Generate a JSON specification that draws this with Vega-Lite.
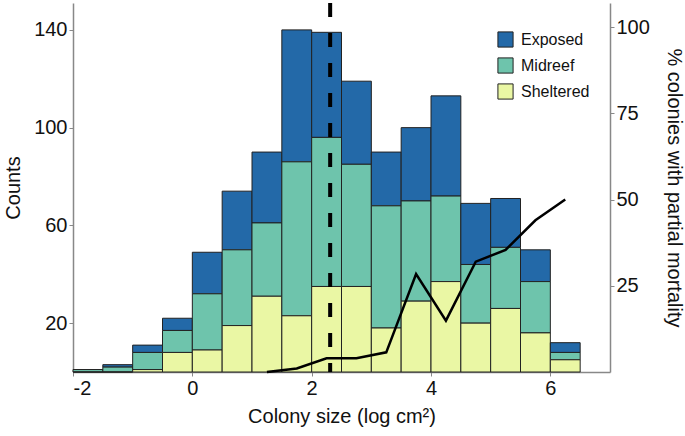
{
  "$schema": "https://vega.github.io/schema/vega-lite/v6.json",
  "autosize": "none",
  "width": 537,
  "height": 369,
  "padding": {"left": 73, "top": 3, "right": 75, "bottom": 64},
  "background": "white",
  "config": {
    "view": {"stroke": null},
    "font": "Liberation Sans",
    "axis": {"grid": false, "domainColor": "#888", "tickColor": "#888", "labelColor": "#111", "titleColor": "#111", "labelFontSize": 20, "titleFontSize": 20, "titleFontWeight": "normal", "tickSize": 4, "domainWidth": 1.5}
  },
  "datasets": {
    "bars": [
      {"bin": -2, "bin_end": -1.5, "group": "Exposed", "count": 0},
      {"bin": -2, "bin_end": -1.5, "group": "Midreef", "count": 1},
      {"bin": -2, "bin_end": -1.5, "group": "Sheltered", "count": 0},
      {"bin": -1.5, "bin_end": -1, "group": "Exposed", "count": 1},
      {"bin": -1.5, "bin_end": -1, "group": "Midreef", "count": 2},
      {"bin": -1.5, "bin_end": -1, "group": "Sheltered", "count": 0},
      {"bin": -1, "bin_end": -0.5, "group": "Exposed", "count": 3},
      {"bin": -1, "bin_end": -0.5, "group": "Midreef", "count": 7},
      {"bin": -1, "bin_end": -0.5, "group": "Sheltered", "count": 1},
      {"bin": -0.5, "bin_end": 0, "group": "Exposed", "count": 5},
      {"bin": -0.5, "bin_end": 0, "group": "Midreef", "count": 9},
      {"bin": -0.5, "bin_end": 0, "group": "Sheltered", "count": 8},
      {"bin": 0, "bin_end": 0.5, "group": "Exposed", "count": 17},
      {"bin": 0, "bin_end": 0.5, "group": "Midreef", "count": 23},
      {"bin": 0, "bin_end": 0.5, "group": "Sheltered", "count": 9},
      {"bin": 0.5, "bin_end": 1, "group": "Exposed", "count": 24},
      {"bin": 0.5, "bin_end": 1, "group": "Midreef", "count": 31},
      {"bin": 0.5, "bin_end": 1, "group": "Sheltered", "count": 19},
      {"bin": 1, "bin_end": 1.5, "group": "Exposed", "count": 29},
      {"bin": 1, "bin_end": 1.5, "group": "Midreef", "count": 30},
      {"bin": 1, "bin_end": 1.5, "group": "Sheltered", "count": 31},
      {"bin": 1.5, "bin_end": 2, "group": "Exposed", "count": 54},
      {"bin": 1.5, "bin_end": 2, "group": "Midreef", "count": 63},
      {"bin": 1.5, "bin_end": 2, "group": "Sheltered", "count": 23},
      {"bin": 2, "bin_end": 2.5, "group": "Exposed", "count": 43},
      {"bin": 2, "bin_end": 2.5, "group": "Midreef", "count": 61},
      {"bin": 2, "bin_end": 2.5, "group": "Sheltered", "count": 35},
      {"bin": 2.5, "bin_end": 3, "group": "Exposed", "count": 34},
      {"bin": 2.5, "bin_end": 3, "group": "Midreef", "count": 50},
      {"bin": 2.5, "bin_end": 3, "group": "Sheltered", "count": 35},
      {"bin": 3, "bin_end": 3.5, "group": "Exposed", "count": 22},
      {"bin": 3, "bin_end": 3.5, "group": "Midreef", "count": 50},
      {"bin": 3, "bin_end": 3.5, "group": "Sheltered", "count": 18},
      {"bin": 3.5, "bin_end": 4, "group": "Exposed", "count": 30},
      {"bin": 3.5, "bin_end": 4, "group": "Midreef", "count": 41},
      {"bin": 3.5, "bin_end": 4, "group": "Sheltered", "count": 29},
      {"bin": 4, "bin_end": 4.5, "group": "Exposed", "count": 41},
      {"bin": 4, "bin_end": 4.5, "group": "Midreef", "count": 35},
      {"bin": 4, "bin_end": 4.5, "group": "Sheltered", "count": 37},
      {"bin": 4.5, "bin_end": 5, "group": "Exposed", "count": 25},
      {"bin": 4.5, "bin_end": 5, "group": "Midreef", "count": 24},
      {"bin": 4.5, "bin_end": 5, "group": "Sheltered", "count": 20},
      {"bin": 5, "bin_end": 5.5, "group": "Exposed", "count": 20},
      {"bin": 5, "bin_end": 5.5, "group": "Midreef", "count": 25},
      {"bin": 5, "bin_end": 5.5, "group": "Sheltered", "count": 26},
      {"bin": 5.5, "bin_end": 6, "group": "Exposed", "count": 13},
      {"bin": 5.5, "bin_end": 6, "group": "Midreef", "count": 21},
      {"bin": 5.5, "bin_end": 6, "group": "Sheltered", "count": 16},
      {"bin": 6, "bin_end": 6.5, "group": "Exposed", "count": 4},
      {"bin": 6, "bin_end": 6.5, "group": "Midreef", "count": 3},
      {"bin": 6, "bin_end": 6.5, "group": "Sheltered", "count": 5}
    ],
    "mortality": [
      {"size": 1.25, "pct": 0},
      {"size": 1.75, "pct": 1},
      {"size": 2.25, "pct": 4},
      {"size": 2.75, "pct": 4},
      {"size": 3.25, "pct": 5.7},
      {"size": 3.75, "pct": 28.4},
      {"size": 4.25, "pct": 14.9},
      {"size": 4.75, "pct": 32},
      {"size": 5.25, "pct": 35.4},
      {"size": 5.75, "pct": 44},
      {"size": 6.25, "pct": 50}
    ],
    "median": [{"size": 2.31}]
  },
  "layer": [
    {
      "data": {"name": "bars"},
      "mark": {"type": "bar", "orient": "vertical", "stroke": "#222", "strokeWidth": 1},
      "encoding": {
        "x": {"field": "bin", "type": "quantitative", "scale": {"domain": [-2, 7], "nice": false, "zero": false, "padding": 0},
              "axis": {"values": [-2, 0, 2, 4, 6], "labelExpr": "datum.value < 0 ? '-' + abs(datum.value) : '' + datum.value", "title": "Colony size (log cm²)", "titlePadding": 8, "labelPadding": 2}},
        "x2": {"field": "bin_end"},
        "y": {"field": "count", "type": "quantitative", "stack": "zero", "scale": {"domain": [0, 151], "nice": false},
              "axis": {"values": [20, 60, 100, 140], "title": "Counts", "titlePadding": 10, "labelPadding": 2}},
        "color": {"field": "group", "type": "nominal",
                  "scale": {"domain": ["Exposed", "Midreef", "Sheltered"], "range": ["#2369a8", "#6ec4ac", "#eaf7a4"]},
                  "legend": {"title": null, "orient": "none", "legendX": 424, "legendY": 28, "symbolType": "square", "symbolSize": 230, "symbolStrokeColor": "#222", "symbolStrokeWidth": 1, "symbolOpacity": 1, "labelFontSize": 16, "labelColor": "#111", "rowPadding": 5, "labelOffset": 7}},
        "order": {"field": "group", "sort": "descending"}
      }
    },
    {
      "data": {"name": "median"},
      "mark": {"type": "rule", "color": "black", "strokeWidth": 4, "strokeDash": [14, 16]},
      "encoding": {
        "x": {"field": "size", "type": "quantitative"}
      }
    },
    {
      "data": {"name": "mortality"},
      "mark": {"type": "line", "color": "black", "strokeWidth": 2.5},
      "encoding": {
        "x": {"field": "size", "type": "quantitative"},
        "y": {"field": "pct", "type": "quantitative", "scale": {"domain": [0, 107], "nice": false},
              "axis": {"orient": "right", "values": [25, 50, 75, 100], "title": "% colonies with partial mortality", "titleAngle": 90, "titlePadding": 14, "labelPadding": 2}}
      }
    }
  ],
  "resolve": {"scale": {"y": "independent"}}
}
